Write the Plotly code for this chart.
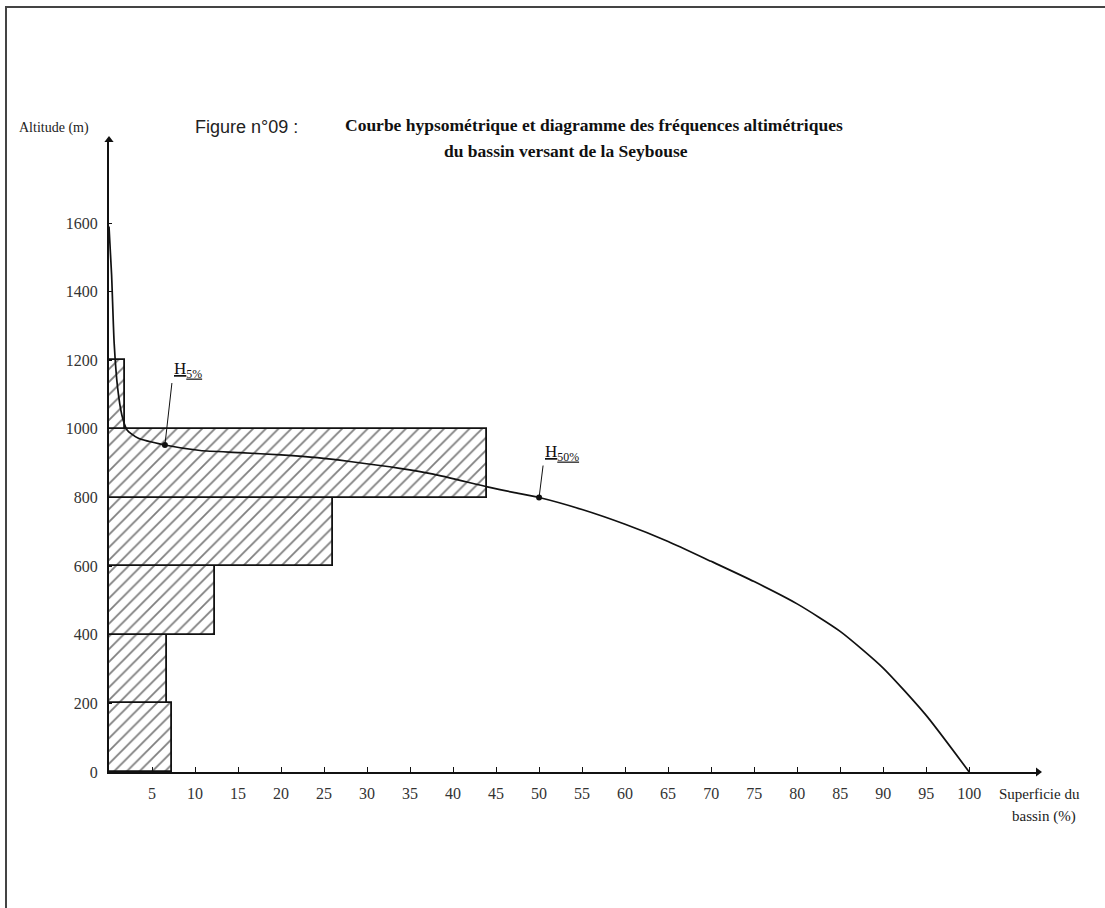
import plotly.graph_objects as go

# ---- data ----
band_low = [0, 200, 400, 600, 800, 1000]
band_high = [200, 400, 600, 800, 1000, 1200]
band_freq = [7.3, 6.8, 12.3, 26.0, 44.0, 1.9]   # % of basin area per altitude band

curve_area = [0, 0.3, 0.6, 1.0, 1.5, 2.1, 3.3, 6.5, 10.6, 15.2, 20, 24.2, 28, 33.8,
              37.7, 44, 47, 50, 55, 60, 65, 70, 75, 80, 85, 90, 95, 100]
curve_alt = [1590, 1450, 1250, 1120, 1040, 997, 974, 953, 937, 931, 924, 916, 905, 885,
             868, 831, 815, 800, 765, 722, 672, 614, 555, 490, 410, 303, 165, 0]

marker_area = [6.5, 50]
marker_alt = [953, 800]
marker_text = ["<u>H<sub>5%</sub></u>", "<u>H<sub>50%</sub></u>"]

x_ticks = list(range(5, 105, 5))
y_ticks = [0, 200, 400, 600, 800, 1000, 1200, 1400, 1600]

X_MAX = 108
Y_MAX = 1842

W, H = 1105, 908
ML, MR, MT, MB = 109, 67, 140, 136

fig = go.Figure()

centers = [(a + b) / 2 for a, b in zip(band_low, band_high)]
widths = [b - a for a, b in zip(band_low, band_high)]
fig.add_trace(go.Bar(
    y=centers, x=band_freq, width=widths, orientation="h",
    marker=dict(color="white", line=dict(color="#111", width=1.8),
                pattern=dict(shape="/", fgcolor="#000", bgcolor="white", size=9, solidity=0.2)),
    showlegend=False, hoverinfo="skip"))

fig.add_trace(go.Scatter(x=curve_area, y=curve_alt, mode="lines",
                         line=dict(color="#111", width=1.7, shape="spline", smoothing=0.6),
                         showlegend=False, hoverinfo="skip"))
fig.add_trace(go.Scatter(x=marker_area, y=marker_alt, mode="markers",
                         marker=dict(color="#111", size=6), showlegend=False, hoverinfo="skip"))

# axis arrow heads
fig.add_trace(go.Scatter(x=[X_MAX, 0], y=[0, Y_MAX], mode="markers",
                         marker=dict(symbol=["triangle-right", "triangle-up"], color="#111", size=8),
                         showlegend=False, hoverinfo="skip", cliponaxis=False))

serif = "Liberation Serif"
annotations = []

fig.update_layout(
    width=W, height=H, margin=dict(l=ML, r=MR, t=MT, b=MB),
    plot_bgcolor="white", paper_bgcolor="white",
    bargap=0, barmode="overlay",
    xaxis=dict(range=[0, X_MAX], tickvals=x_ticks, ticktext=[str(v) for v in x_ticks],
               showgrid=False, zeroline=False, showline=True, linecolor="#111", linewidth=2,
               ticks="inside", ticklen=5, tickcolor="#111", tickwidth=1,
               tickfont=dict(family=serif, size=16, color="#333"), ticklabelstandoff=6),
    yaxis=dict(range=[0, Y_MAX], tickvals=y_ticks, ticktext=[str(v) for v in y_ticks],
               showgrid=False, zeroline=False, showline=True, linecolor="#111", linewidth=2,
               ticks="inside", ticklen=3, tickcolor="#111",
               tickfont=dict(family=serif, size=16, color="#333"), ticklabelstandoff=6),
)

# H labels: text placed above-right of the point with a leader line
for mx, my, t, dx, dy in zip(marker_area, marker_alt, marker_text, [7, 4], [-62, -32]):
    annotations.append(dict(x=mx, y=my, xref="x", yref="y", text=t, showarrow=True,
                            ax=dx, ay=dy, arrowhead=0, arrowwidth=1, arrowcolor="#111",
                            xanchor="left", yanchor="bottom",
                            font=dict(family=serif, size=17, color="#111")))

def px_to_paper(px, py):
    return (px - ML) / (W - ML - MR), (H - MB - py) / (H - MT - MB)

for text, px, py, fnt, xa in [
    ("Altitude (m)", 17, 128, dict(family=serif, size=14, color="#222"), "left"),
    ("Figure n°09 :", 193, 127, dict(family="Liberation Sans", size=18, color="#222"), "left"),
    ("<b>Courbe hypsométrique et diagramme des fréquences altimétriques</b>", 343, 125,
     dict(family=serif, size=17.5, color="#111"), "left"),
    ("<b>du bassin versant de la Seybouse</b>", 442, 151, dict(family=serif, size=17.5, color="#111"), "left"),
    ("Superficie du", 997, 794, dict(family=serif, size=15, color="#222"), "left"),
    ("bassin (%)", 1078, 816, dict(family=serif, size=15, color="#222"), "right"),
]:
    xp, yp = px_to_paper(px, py)
    annotations.append(dict(x=xp, y=yp, xref="paper", yref="paper", text=text, showarrow=False,
                            xanchor=xa, yanchor="middle", font=fnt))

fig.update_layout(annotations=annotations)

# outer frame (left and top visible)
x0, y0 = px_to_paper(6, 7)
x1, y1 = px_to_paper(1115, 918)
fig.add_shape(type="rect", xref="paper", yref="paper", x0=x0, y0=y1, x1=x1, y1=y0,
              line=dict(color="#444", width=2))

fig.write_html("out.html")
